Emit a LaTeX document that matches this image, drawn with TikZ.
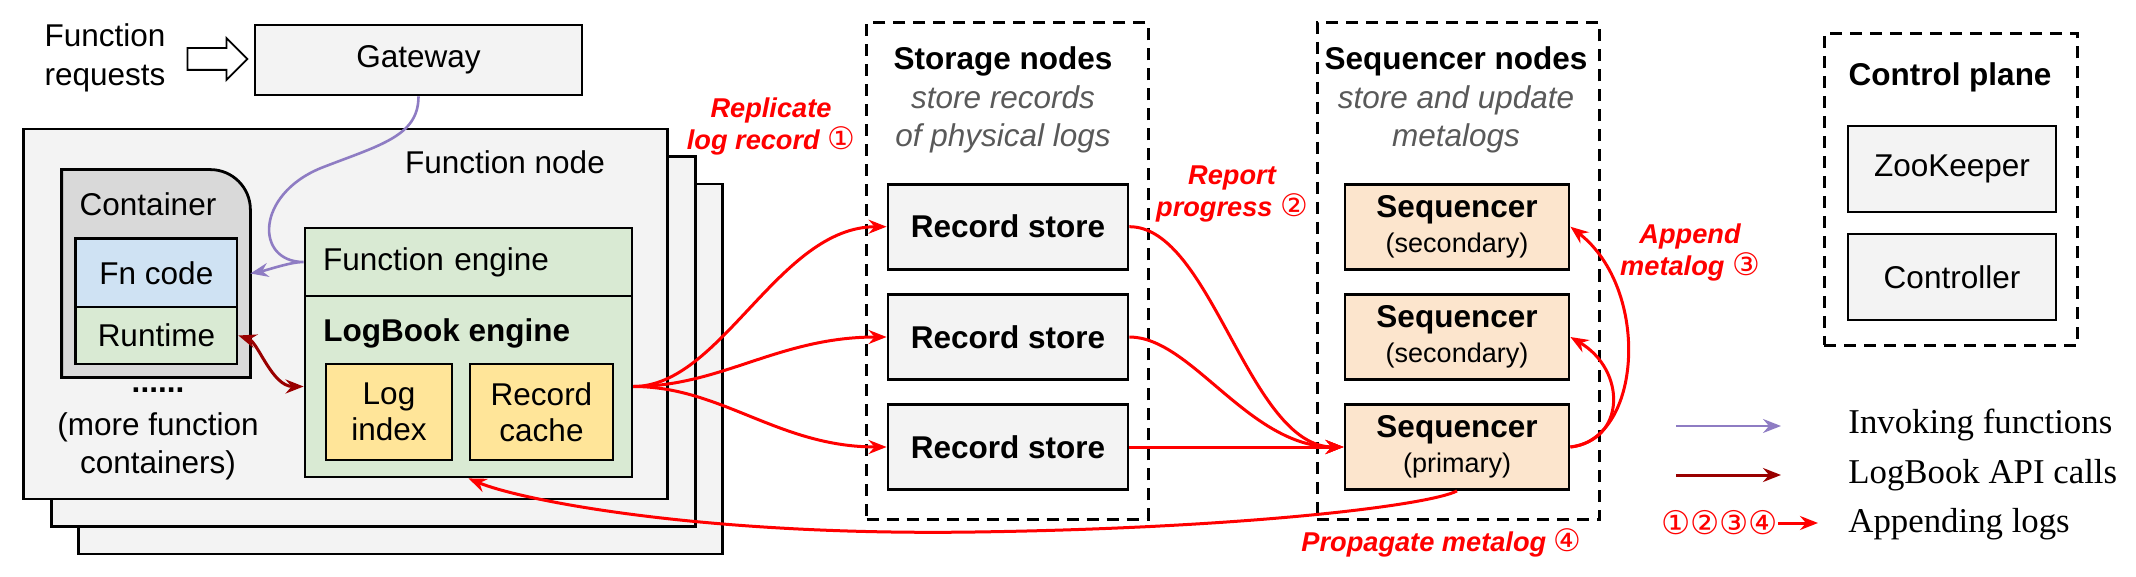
\documentclass[tikz,border=0pt]{standalone}
\usepackage{fontspec}
\setmainfont{Liberation Sans}
\newfontfamily\circfont{DejaVu Sans}
\newfontfamily\legendfont{Liberation Serif}
\usetikzlibrary{arrows.meta,shapes.arrows}
\definecolor{boxgray}{HTML}{F3F3F3}
\definecolor{ctrgray}{HTML}{D9D9D9}
\definecolor{codeblue}{HTML}{CFE2F3}
\definecolor{engreen}{HTML}{D9EAD3}
\definecolor{idxyellow}{HTML}{FFE599}
\definecolor{seqpeach}{HTML}{FCE5CD}
\definecolor{invokepurple}{HTML}{8E7CC3}
\definecolor{apired}{HTML}{990000}
\definecolor{logred}{HTML}{FF0000}
\definecolor{notegray}{HTML}{595959}
\newcommand{\cnum}[1]{{\circfont\mdseries\upshape\fontsize{15.5}{16}\selectfont #1}}
\tikzset{>={Stealth[length=9pt,width=7pt,inset=3pt]}}

\begin{document}
\begin{tikzpicture}[x=0.5pt,y=-0.5pt,
    box/.style={draw,line width=1.4pt,fill=boxgray,inner sep=0pt,align=center},
    grp/.style={draw,line width=1.5pt,dash pattern=on 6pt off 4pt,inner sep=0pt},
    note/.style={text=logred,font=\fontsize{13.6}{16}\selectfont\bfseries\itshape,align=center},
    invoke/.style={draw=invokepurple,line width=1.3pt,->},
    apicall/.style={draw=apired,line width=1.5pt},
    append/.style={draw=logred,line width=1.5pt,->}]
    \fontsize{15.75}{19.25}\selectfont
    \useasboundingbox (0,0) rectangle (2136,577);
    % gateway
    \node[align=center] (req) at (105,58) {Function\\requests};
    \node[single arrow,draw,line width=0.9pt,fill=white,minimum height=30pt,minimum width=20pt,
        single arrow head extend=5pt,inner xsep=0pt,inner ysep=5pt] (reqarrow) at (212,59) {};
    \node[box,minimum width=163.5pt,minimum height=35pt] (gw) at (418.5,60) {Gateway};
    % function nodes
    \foreach \i in {2,1,0}
        \node[box,minimum width=322pt,minimum height=185pt] (fn\i) at (345.85+27.5*\i,314+27.5*\i) {};
    \node (fnlabel) at (505,162) {Function node};
    \node[minimum width=94pt,minimum height=103.5pt,inner sep=0pt] (ctr) at (156,273.5) {};
    \draw[line width=1.4pt,fill=ctrgray] (ctr.south west) -- (ctr.north west) -- ([xshift=-20pt]ctr.north east)
        .. controls ([xshift=-9pt]ctr.north east) and ([yshift=-9pt]ctr.north east) .. ([yshift=-20pt]ctr.north east)
        -- (ctr.south east) -- cycle;
    \node (ctrlabel) at (148,204) {Container};
    \node[box,fill=codeblue,minimum width=80.6pt,minimum height=34.25pt] (fncode) at (156.4,272.75) {Fn code};
    \node[box,fill=engreen,minimum width=80.6pt,minimum height=28.5pt] (rt) at (156.4,335.5) {Runtime};
    \node[font=\bfseries] (dots) at (158,390) {......};
    \node[align=center] (more) at (158,446.5) {(more function\\containers)};
    \node[box,fill=engreen,minimum width=163.5pt,minimum height=34pt,text width=145.5pt,align=left] (fe) at (468.5,262) {Function engine};
    \node[box,fill=engreen,minimum width=163.5pt,minimum height=90.5pt] (lb) at (468.5,386.5) {};
    \node[anchor=west,inner sep=0pt,font=\bfseries] (lblabel) at (323,333) {LogBook engine};
    \node[box,fill=idxyellow,minimum width=63pt,minimum height=48pt,font=\fontsize{15.75}{18}\selectfont] (idx) at (389,412) {Log\\index};
    \node[box,fill=idxyellow,minimum width=71.5pt,minimum height=48pt,font=\fontsize{15.75}{18}\selectfont] (cache) at (541.5,412) {Record\\cache};
    % storage nodes
    \node[grp,minimum width=140.65pt,minimum height=248pt] (stg) at (1007.35,271) {};
    \node[align=center] (stgtitle) at (1003,100) {\textbf{Storage nodes}\\\textcolor{notegray}{\itshape store records}\\\textcolor{notegray}{\itshape of physical logs}};
    \foreach \i/\y in {1/226.7,2/337,3/447}
        \node[box,minimum width=120pt,minimum height=42.5pt,font=\bfseries] (rs\i) at (1008,\y) {Record store};
    % sequencer nodes
    \node[grp,minimum width=141.25pt,minimum height=248pt] (seqgrp) at (1458.25,271) {};
    \node[align=center] (seqtitle) at (1456,100) {\textbf{Sequencer nodes}\\\textcolor{notegray}{\itshape store and update}\\\textcolor{notegray}{\itshape metalogs}};
    \node[box,fill=seqpeach,minimum width=112pt,minimum height=42.5pt] (seq1) at (1457,226.7) {\textbf{Sequencer}\\[-2pt]{\fontsize{13.5}{16}\selectfont (secondary)}};
    \node[box,fill=seqpeach,minimum width=112pt,minimum height=42.5pt] (seq2) at (1457,337) {\textbf{Sequencer}\\[-2pt]{\fontsize{13.5}{16}\selectfont (secondary)}};
    \node[box,fill=seqpeach,minimum width=112pt,minimum height=42.5pt] (seqp) at (1457,447) {\textbf{Sequencer}\\[-2pt]{\fontsize{13.5}{16}\selectfont (primary)}};
    % control plane
    \node[grp,minimum width=126.75pt,minimum height=155.5pt] (ctl) at (1950.75,189.5) {};
    \node[font=\bfseries] (ctltitle) at (1950,77) {Control plane};
    \node[box,minimum width=104pt,minimum height=43pt] (zk) at (1952,169) {ZooKeeper};
    \node[box,minimum width=104pt,minimum height=43pt] (ctlr) at (1952,277) {Controller};
    % red notes
    \node[note] (n1) at (771,126) {Replicate\\log record \cnum{①}};
    \node[note] (n2) at (1232,194) {Report\\progress \cnum{②}};
    \node[note] (n3) at (1690,252) {Append\\metalog \cnum{③}};
    \node[note] (n4) at (1441.5,543) {Propagate metalog \cnum{④}};
    % connectors
    \draw[invoke] (gw.south) .. controls +(0,40) and (380,145) .. (321,168)
        .. controls (255,195) and (255,262) .. (fe.west)
        .. controls (290,262) and (268,270) .. (ctr.east);
    \draw[apicall,<->] (rt.east) .. controls (258,342) and (272,386.5) .. (lb.west);
    \foreach \i in {1,2,3}
        \draw[append] (lb.east) .. controls +(88,0) and ([xshift=-54pt]rs\i.west) .. (rs\i.west);
    \draw[append] (rs1.east) .. controls +(82,0) and +(-95,0) .. (seqp.west);
    \draw[append] (rs2.east) .. controls +(62,0) and +(-95,0) .. (seqp.west);
    \draw[append] (rs3.east) -- (seqp.west);
    \draw[append] (seqp.east) .. controls +(71,-7) and +(81,63) .. (seq1.east);
    \draw[append] (seqp.east) .. controls +(56,-7) and +(56,33) .. (seq2.east);
    \draw[append] (seqp.south) .. controls (1430,505) and (1250,528) .. (975,532)
        .. controls (700,536) and (520,500) .. (lb.south);
    % legend
    \coordinate (inv0) at (1676,426);
    \coordinate (inv1) at (1781,426);
    \coordinate (api0) at (1676,475);
    \coordinate (api1) at (1781,475);
    \coordinate (lg1) at (1818,523);
    \draw[invoke] (inv0) -- (inv1);
    \draw[apicall,->] (api0) -- (api1);
    \node[text=logred,inner sep=0pt,font=\circfont\fontsize{16.3}{18}\selectfont] (digits) at (1719.5,523) {①②③④};
    \draw[append] (digits.east) -- (lg1);
    \node[anchor=west,inner sep=0pt,font=\legendfont\fontsize{17.4}{20}\selectfont] (lginv) at (1848,425) {Invoking functions};
    \node[anchor=west,inner sep=0pt,font=\legendfont\fontsize{17.4}{20}\selectfont] (lgapi) at (1848,475) {LogBook API calls};
    \node[anchor=west,inner sep=0pt,font=\legendfont\fontsize{17.4}{20}\selectfont] (lglog) at (1848,524) {Appending logs};
\end{tikzpicture}
\end{document}
